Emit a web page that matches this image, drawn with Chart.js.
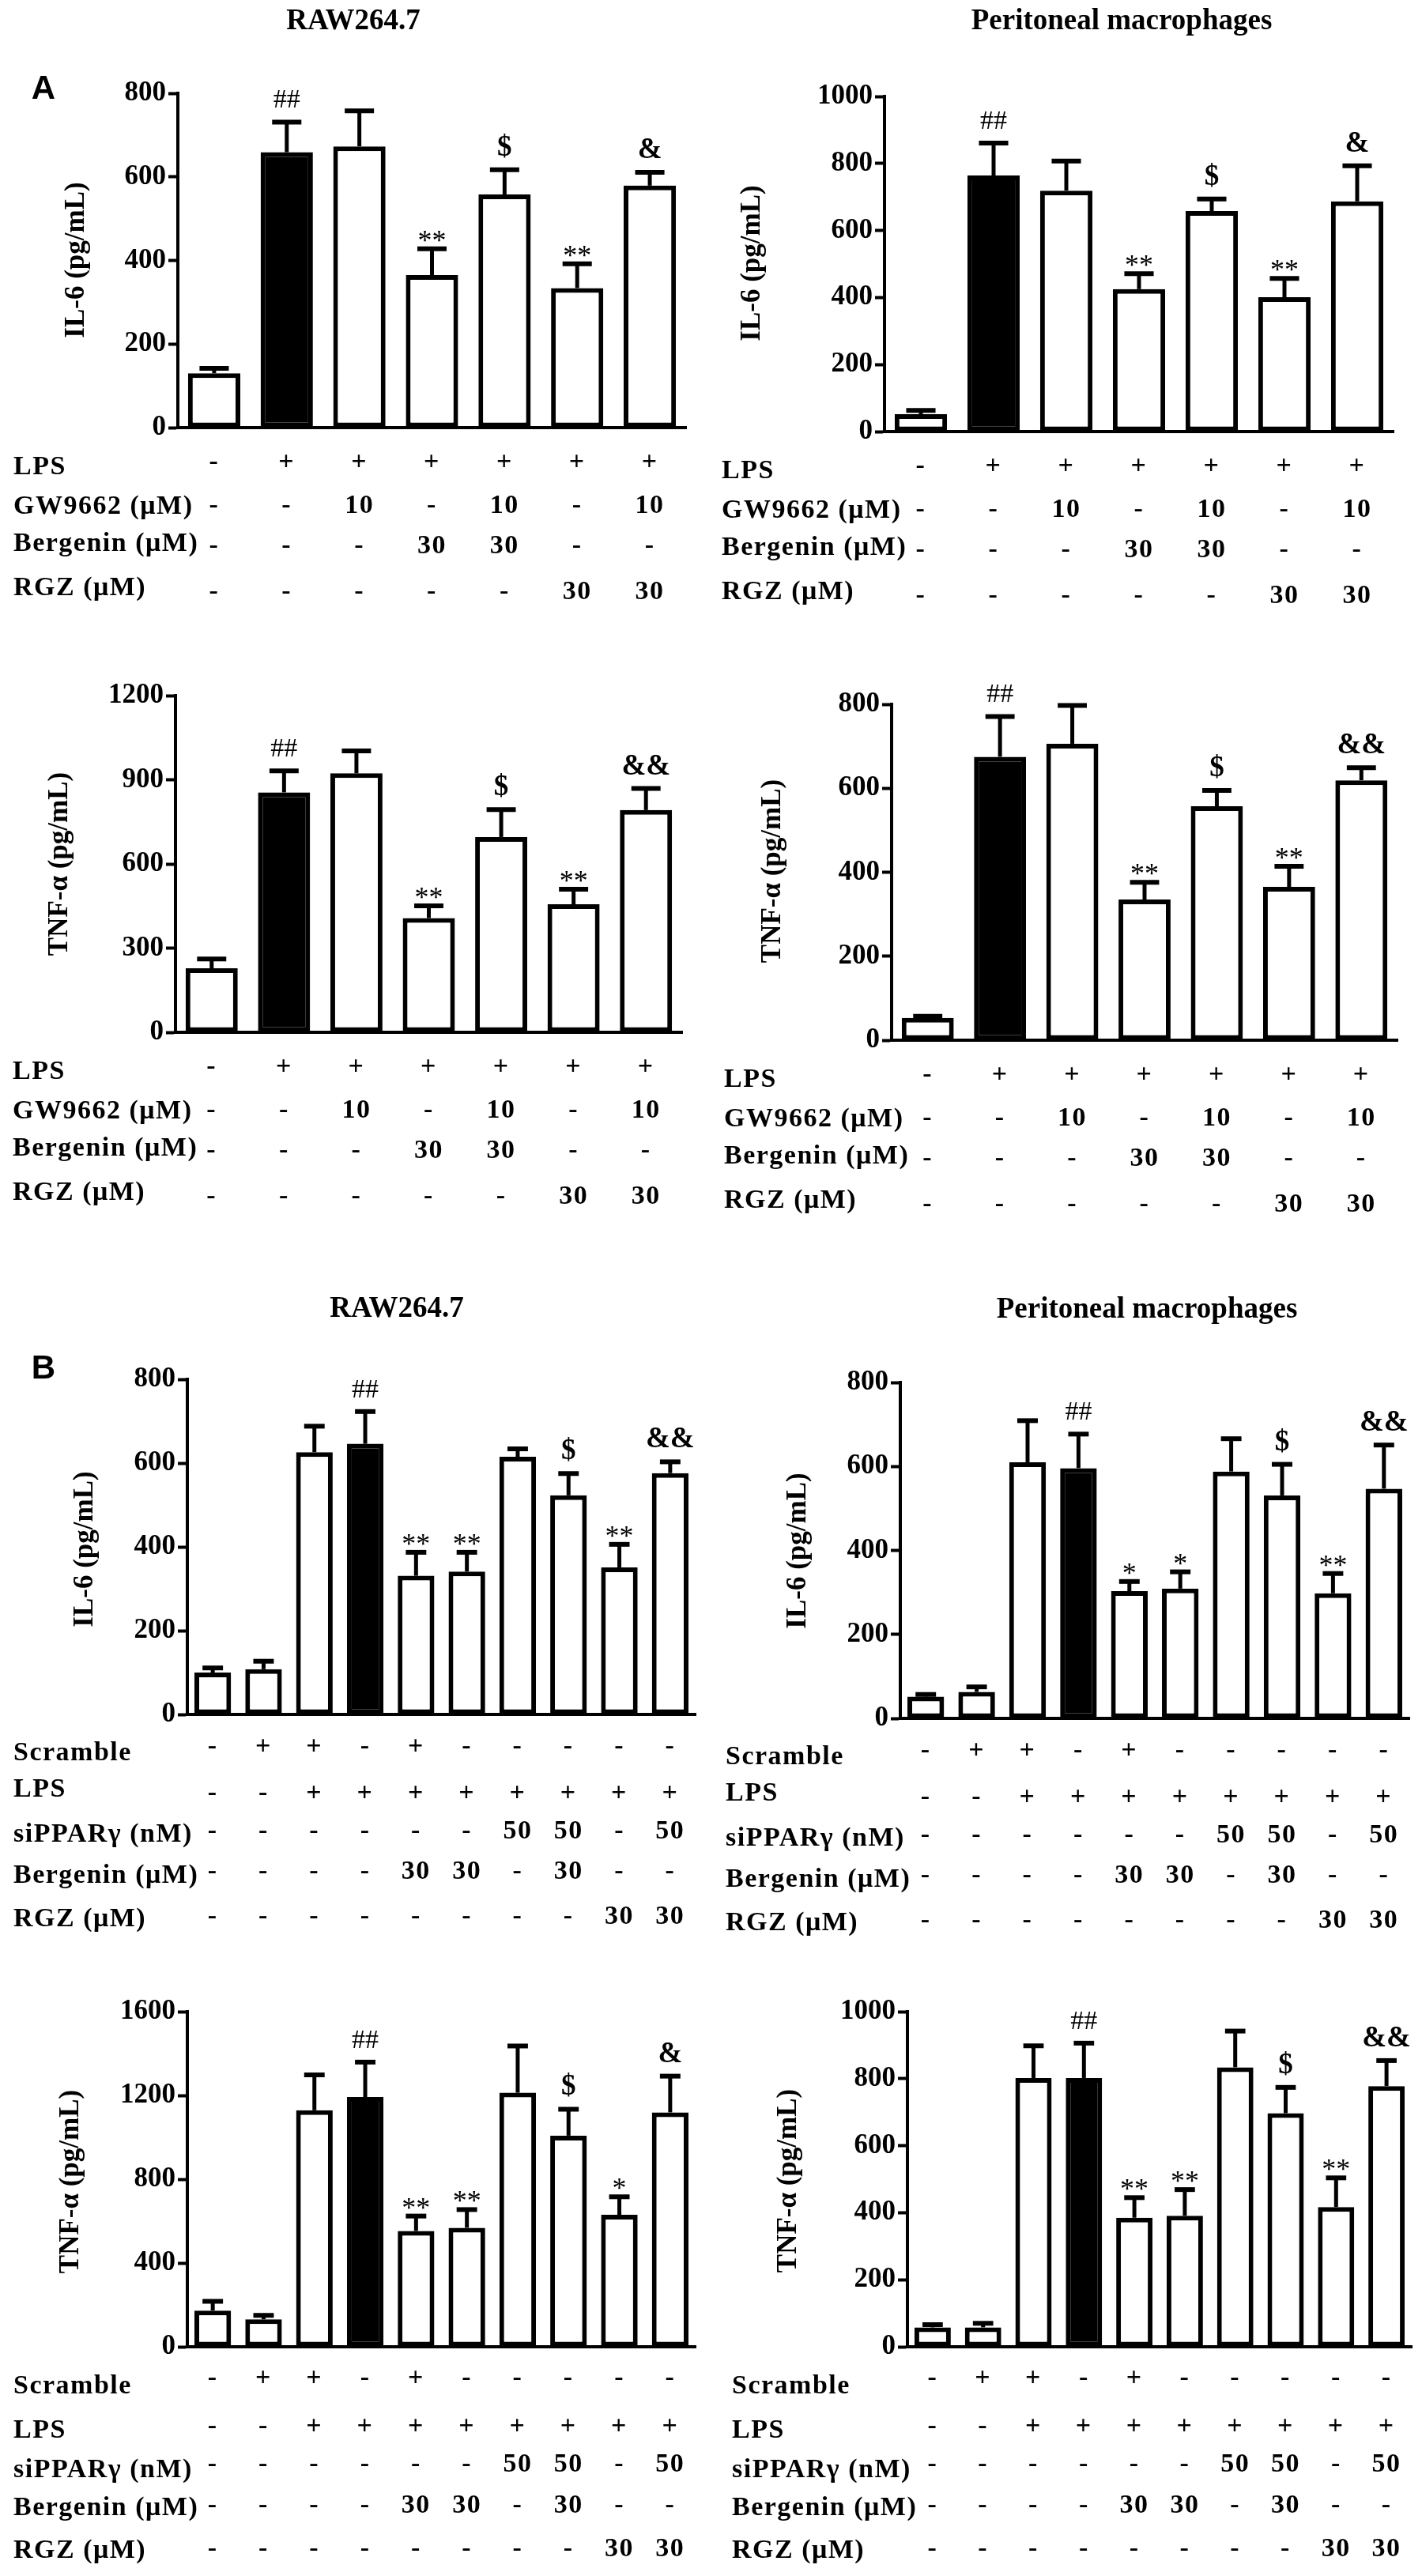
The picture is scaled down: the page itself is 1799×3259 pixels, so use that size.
<!DOCTYPE html>
<html>
<head>
<meta charset="utf-8">
<title>Bergenin PPARγ cytokines</title>
<script src="https://cdn.jsdelivr.net/npm/chart.js@4.4.0/dist/chart.umd.min.js"></script>
<style>
  body { margin: 0; background: #fff; }
  #fig { position: relative; width: 1799px; height: 3259px; background: #fff; }
  #fig canvas { position: absolute; }
</style>
</head>
<body>
<div id="fig"></div>
<script>
// ---- data (mean and SEM in pg/mL) ----
const groupsA = ['Ctrl', 'LPS', 'LPS+GW', 'LPS+Berg', 'LPS+GW+Berg', 'LPS+RGZ', 'LPS+GW+RGZ'];
const groupsB = ['Ctrl', 'Scr', 'Scr+LPS', 'LPS', 'Scr+LPS+Berg', 'LPS+Berg', 'LPS+si', 'LPS+si+Berg', 'LPS+RGZ', 'LPS+si+RGZ'];

const rawIl6A = [130, 659, 673, 365, 558, 334, 579];
const rawIl6SemA = [12, 72, 85, 63, 59, 58, 32];
const periIl6A = [52, 764, 719, 425, 658, 401, 687];
const periIl6SemA = [11, 97, 88, 46, 36, 56, 106];
const rawTnfA = [228, 855, 923, 407, 696, 456, 792];
const rawTnfSemA = [33, 77, 80, 44, 98, 54, 77];
const periTnfA = [53, 675, 706, 335, 557, 365, 619];
const periTnfSemA = [4, 96, 91, 41, 38, 49, 30];

const rawIl6B = [100, 108, 626, 646, 331, 341, 615, 523, 351, 576];
const rawIl6SemB = [11, 19, 62, 77, 56, 46, 19, 52, 55, 27];
const periIl6B = [52, 63, 610, 596, 303, 309, 588, 531, 298, 547];
const periIl6SemB = [5, 12, 99, 81, 23, 40, 78, 74, 47, 104];
const rawTnfB = [173, 131, 1129, 1192, 553, 568, 1213, 1008, 630, 1119];
const rawTnfSemB = [44, 19, 169, 167, 71, 87, 223, 126, 86, 173];
const periTnfB = [58, 58, 802, 802, 385, 391, 834, 697, 417, 778];
const periTnfSemB = [8, 12, 96, 104, 60, 78, 108, 77, 87, 76];

// significance marks
const marksA1 = ['', '##', '', '**', '$', '**', '&'];
const marksA2 = ['', '##', '', '**', '$', '**', '&'];
const marksA3 = ['', '##', '', '**', '$', '**', '&&'];
const marksA4 = ['', '##', '', '**', '$', '**', '&&'];
const marksB1 = ['', '', '', '##', '**', '**', '', '$', '**', '&&'];
const marksB2 = ['', '', '', '##', '*', '*', '', '$', '**', '&&'];
const marksB3 = ['', '', '', '##', '**', '**', '', '$', '*', '&'];
const marksB4 = ['', '', '', '##', '**', '**', '', '$', '**', '&&'];

// treatment tables under the bars
const rowLabelsA = ['LPS', 'GW9662 (μM)', 'Bergenin (μM)', 'RGZ (μM)'];
const lpsA = ['-', '+', '+', '+', '+', '+', '+'];
const gwA = ['-', '-', '10', '-', '10', '-', '10'];
const bergA = ['-', '-', '-', '30', '30', '-', '-'];
const rgzA = ['-', '-', '-', '-', '-', '30', '30'];

const rowLabelsB = ['Scramble', 'LPS', 'siPPARγ (nM)', 'Bergenin (μM)', 'RGZ (μM)'];
const scrB = ['-', '+', '+', '-', '+', '-', '-', '-', '-', '-'];
const lpsB = ['-', '-', '+', '+', '+', '+', '+', '+', '+', '+'];
const siB = ['-', '-', '-', '-', '-', '-', '50', '50', '-', '50'];
const bergB = ['-', '-', '-', '-', '30', '30', '-', '30', '-', '-'];
const rgzB = ['-', '-', '-', '-', '-', '-', '-', '-', '30', '30'];

const SERIF = '"Liberation Serif", "Times New Roman", serif';
const SANS = '"Liberation Sans", Arial, sans-serif';

// table row baselines below the zero line
const tableA = { labelY: [59, 109, 156, 212], valueY: [53, 108, 159, 217] };
const tableB1 = { labelY: [58, 104, 161, 213, 268], valueY: [50, 109, 157, 208, 265] };
const tableB2 = { labelY: [59, 115, 165, 213, 267], valueY: [49, 110, 158, 210, 265] };

// panel placement on the page (pixels)
const panels = [
  { pos: [0, 0, 900, 800], left: 225, top: 118, right: 868, zero: 541, max: 800, step: 200,
    labels: groupsA, mean: rawIl6A, sem: rawIl6SemA, marks: marksA1, black: 1, ytitle: 'IL-6 (pg/mL)', ylab: [97, 329],
    title: 'RAW264.7', titleAt: [447, 27], letter: 'A', letterAt: [55, 113],
    rowLabels: rowLabelsA, rows: [lpsA, gwA, bergA, rgzA], table: tableA, labelX: 17 },
  { pos: [900, 0, 899, 800], left: 219, top: 122, right: 863, zero: 546, max: 1000, step: 200,
    labels: groupsA, mean: periIl6A, sem: periIl6SemA, marks: marksA2, black: 1, ytitle: 'IL-6 (pg/mL)', ylab: [52, 333],
    title: 'Peritoneal macrophages', titleAt: [519, 27],
    rowLabels: rowLabelsA, rows: [lpsA, gwA, bergA, rgzA], table: tableA, labelX: 13 },
  { pos: [0, 800, 900, 780], left: 222, top: 80, right: 863, zero: 506, max: 1200, step: 300,
    labels: groupsA, mean: rawTnfA, sem: rawTnfSemA, marks: marksA3, black: 1, ytitle: 'TNF-α (pg/mL)', ylab: [76, 293],
    rowLabels: rowLabelsA, rows: [lpsA, gwA, bergA, rgzA], table: tableA, labelX: 16 },
  { pos: [900, 800, 899, 780], left: 228, top: 91, right: 868, zero: 516, max: 800, step: 200,
    labels: groupsA, mean: periTnfA, sem: periTnfSemA, marks: marksA4, black: 1, ytitle: 'TNF-α (pg/mL)', ylab: [78, 302],
    rowLabels: rowLabelsA, rows: [lpsA, gwA, bergA, rgzA], table: tableA, labelX: 16 },
  { pos: [0, 1580, 900, 880], left: 237, top: 165, right: 880, zero: 589, max: 800, step: 200,
    labels: groupsB, mean: rawIl6B, sem: rawIl6SemB, marks: marksB1, black: 3, ytitle: 'IL-6 (pg/mL)', ylab: [108, 380],
    title: 'RAW264.7', titleAt: [502, 76], letter: 'B', letterAt: [55, 152],
    rowLabels: rowLabelsB, rows: [scrB, lpsB, siB, bergB, rgzB], table: tableB1, labelX: 17 },
  { pos: [900, 1580, 899, 880], left: 239, top: 169, right: 883, zero: 594, max: 800, step: 200,
    labels: groupsB, mean: periIl6B, sem: periIl6SemB, marks: marksB2, black: 3, ytitle: 'IL-6 (pg/mL)', ylab: [110, 382],
    title: 'Peritoneal macrophages', titleAt: [551, 77],
    rowLabels: rowLabelsB, rows: [scrB, lpsB, siB, bergB, rgzB], table: tableB1, labelX: 18 },
  { pos: [0, 2460, 900, 799], left: 237, top: 85, right: 880, zero: 509, max: 1600, step: 400,
    labels: groupsB, mean: rawTnfB, sem: rawTnfSemB, marks: marksB3, black: 3, ytitle: 'TNF-α (pg/mL)', ylab: [90, 300],
    rowLabels: rowLabelsB, rows: [scrB, lpsB, siB, bergB, rgzB], table: tableB2, labelX: 17 },
  { pos: [900, 2460, 899, 799], left: 248, top: 85, right: 886, zero: 509, max: 1000, step: 200,
    labels: groupsB, mean: periTnfB, sem: periTnfSemB, marks: marksB4, black: 3, ytitle: 'TNF-α (pg/mL)', ylab: [98, 299],
    rowLabels: rowLabelsB, rows: [scrB, lpsB, siB, bergB, rgzB], table: tableB2, labelX: 26 }
];

// error bars, significance marks, treatment table, titles
function decorPlugin(cfg) {
  return {
    id: 'decor',
    afterDatasetsDraw(chart) {
      const ctx = chart.ctx;
      const y = chart.scales.y;
      const meta = chart.getDatasetMeta(0);
      ctx.save();
      ctx.strokeStyle = '#000';
      ctx.fillStyle = '#000';
      ctx.lineCap = 'butt';
      meta.data.forEach((bar, i) => {
        const base = y.getPixelForValue(cfg.mean[i]);
        const top = y.getPixelForValue(cfg.mean[i] + cfg.sem[i]);
        const half = bar.width * 0.28;
        ctx.lineWidth = 5;
        ctx.beginPath();
        ctx.moveTo(bar.x, base);
        ctx.lineTo(bar.x, top);
        ctx.stroke();
        ctx.lineWidth = 6;
        ctx.beginPath();
        ctx.moveTo(bar.x - half, top);
        ctx.lineTo(bar.x + half, top);
        ctx.stroke();

        const m = cfg.marks[i];
        if (!m) return;
        ctx.textAlign = 'center';
        ctx.textBaseline = 'alphabetic';
        if (m.includes('*')) {
          ctx.font = '36px ' + SERIF;
          ctx.fillText(m, bar.x, top + 1);
        } else if (m.includes('#')) {
          ctx.font = '34px ' + SERIF;
          ctx.fillText(m, bar.x, top - 18);
        } else {
          ctx.font = 'bold 37px ' + SERIF;
          ctx.fillText(m, bar.x, top - 18);
        }
      });
      ctx.restore();
    },
    afterDraw(chart) {
      const ctx = chart.ctx;
      const x = chart.scales.x;
      const zero = chart.scales.y.getPixelForValue(0);
      ctx.save();
      ctx.fillStyle = '#000';
      ctx.font = 'bold 34px ' + SERIF;
      ctx.letterSpacing = '1.5px';
      ctx.textBaseline = 'alphabetic';
      cfg.rows.forEach((vals, r) => {
        ctx.textAlign = 'left';
        ctx.fillText(cfg.rowLabels[r], cfg.labelX, zero + cfg.table.labelY[r]);
        ctx.textAlign = 'center';
        vals.forEach((v, i) => ctx.fillText(v, x.getPixelForValue(i), zero + cfg.table.valueY[r]));
      });
      ctx.letterSpacing = '0px';

      // y axis title
      ctx.font = 'bold 35px ' + SERIF;
      ctx.save();
      ctx.translate(cfg.ylab[0], cfg.ylab[1]);
      ctx.rotate(-Math.PI / 2);
      ctx.textAlign = 'center';
      ctx.textBaseline = 'middle';
      ctx.fillText(cfg.ytitle, 0, 0);
      ctx.restore();

      if (cfg.title) {
        ctx.font = 'bold 37px ' + SERIF;
        ctx.textAlign = 'center';
        ctx.textBaseline = 'middle';
        ctx.fillText(cfg.title, cfg.titleAt[0], cfg.titleAt[1]);
      }
      if (cfg.letter) {
        ctx.font = 'bold 42px ' + SANS;
        ctx.textAlign = 'center';
        ctx.textBaseline = 'middle';
        ctx.fillText(cfg.letter, cfg.letterAt[0], cfg.letterAt[1]);
      }
      ctx.restore();
    }
  };
}

const fig = document.getElementById('fig');
panels.forEach(cfg => {
  const [px, py, w, h] = cfg.pos;
  const canvas = document.createElement('canvas');
  canvas.width = w;
  canvas.height = h;
  canvas.style.left = px + 'px';
  canvas.style.top = py + 'px';
  canvas.style.width = w + 'px';
  canvas.style.height = h + 'px';
  fig.appendChild(canvas);

  new Chart(canvas.getContext('2d'), {
    type: 'bar',
    data: {
      labels: cfg.labels,
      datasets: [{
        data: cfg.mean,
        backgroundColor: cfg.mean.map((_, i) => i === cfg.black ? '#000' : '#fff'),
        borderColor: '#000',
        borderWidth: 6,
        borderSkipped: false,
        barPercentage: 0.72,
        categoryPercentage: 1.0
      }]
    },
    options: {
      responsive: false,
      animation: false,
      devicePixelRatio: 1,
      layout: { padding: { left: 0, top: cfg.top, right: w - cfg.right, bottom: 0 } },
      plugins: { legend: { display: false }, tooltip: { enabled: false } },
      scales: {
        x: {
          offset: true,
          grid: { display: false },
          border: { display: true, color: '#000', width: 4 },
          ticks: { display: false },
          afterFit(s) { s.height = h - cfg.zero; }
        },
        y: {
          min: 0,
          max: cfg.max,
          ticks: {
            stepSize: cfg.step,
            color: '#000',
            padding: 3,
            font: { family: SERIF, size: 35, weight: 'bold' },
            callback: v => String(v)
          },
          grid: { drawOnChartArea: false, drawTicks: true, tickLength: 12, tickWidth: 4, tickColor: '#000' },
          border: { display: true, color: '#000', width: 4 },
          afterFit(s) { s.width = cfg.left; }
        }
      }
    },
    plugins: [decorPlugin(cfg)]
  });
});
</script>
</body>
</html>
